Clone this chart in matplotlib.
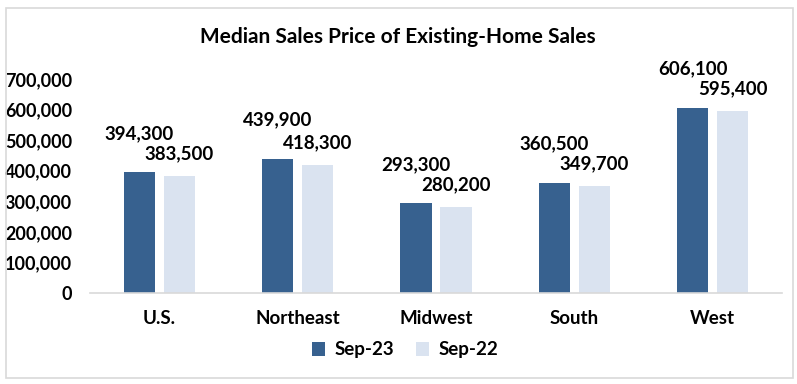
import matplotlib.pyplot as plt
from matplotlib.patches import Rectangle
from matplotlib.ticker import FuncFormatter
import numpy as np

regions = ["U.S.", "Northeast", "Midwest", "South", "West"]
sep_23 = [394300, 439900, 293300, 360500, 606100]
sep_22 = [383500, 418300, 280200, 349700, 595400]
y_ticks = [0, 100000, 200000, 300000, 400000, 500000, 600000, 700000]

DARK = "#37618F"
LIGHT = "#DAE3F0"

plt.rcParams["font.family"] = ["Lato", "DejaVu Sans"]
plt.rcParams["font.weight"] = "bold"

fig = plt.figure(figsize=(7.97, 3.84), dpi=100)
fig.patches.append(Rectangle((6 / 797, 6 / 384), 787 / 797, 370 / 384,
                             transform=fig.transFigure, fill=False,
                             edgecolor="#D9D9D9", linewidth=1.2))

ax = fig.add_axes([90 / 797, 1 - 293 / 384, 692 / 797, 214 / 384])
x = np.arange(len(regions))
w = 0.225
off = 0.145
b1 = ax.bar(x - off, sep_23, w, color=DARK, label="Sep-23")
b2 = ax.bar(x + off, sep_22, w, color=LIGHT, label="Sep-22")

for bars, dy in ((b1, 28), (b2, 16)):
    for rect in bars:
        v = rect.get_height()
        ax.annotate(f"{v:,.0f}", (rect.get_x() + rect.get_width() / 2, v),
                    xytext=(0, dy), textcoords="offset points",
                    ha="center", va="center", fontsize=13.5, fontweight="bold")

ax.set_xlim(-0.5, len(regions) - 0.5)
ax.set_ylim(0, 700000)
ax.set_yticks(y_ticks)
ax.yaxis.set_major_formatter(FuncFormatter(lambda v, p: f"{v:,.0f}"))
ax.set_xticks(x)
ax.set_xticklabels(regions)
ax.tick_params(axis="y", length=0, pad=13, labelsize=13)
ax.tick_params(axis="x", length=0, pad=12, labelsize=13.5)
for lab in ax.get_xticklabels() + ax.get_yticklabels():
    lab.set_fontweight("bold")
for s in ("top", "right", "left"):
    ax.spines[s].set_visible(False)
ax.spines["bottom"].set_color("#D9D9D9")
ax.spines["bottom"].set_linewidth(1.2)

fig.text(398 / 797, 1 - 37 / 384, "Median Sales Price of Existing-Home Sales",
         ha="center", va="center", fontsize=15, fontweight="bold")

fig.legend(handles=[b1, b2], loc="center", bbox_to_anchor=(405 / 797, 1 - 350 / 384),
           ncol=2, frameon=False, handlelength=0.7, handleheight=0.7,
           columnspacing=1.2, handletextpad=0.5, prop={"weight": "bold", "size": 13.5})

fig.savefig("out.png", dpi=100)
